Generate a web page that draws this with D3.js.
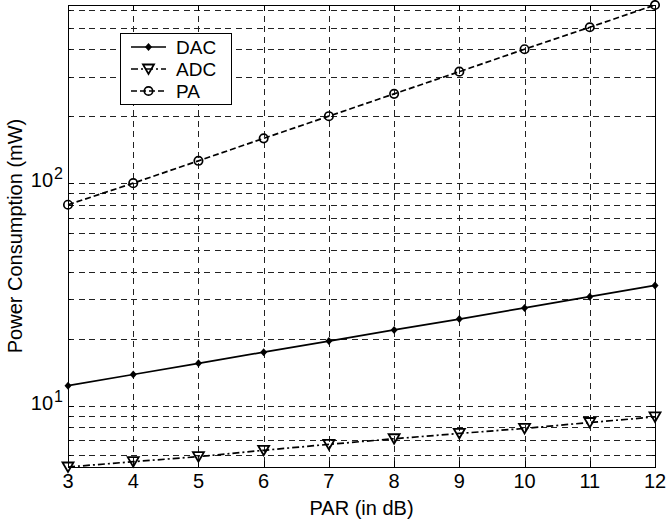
<!DOCTYPE html>
<html>
<head>
<meta charset="utf-8">
<script src="https://cdn.jsdelivr.net/npm/d3@7"></script>
<style>
  html, body { margin: 0; padding: 0; background: #fff; }
  svg { display: block; font-family: "Liberation Sans", Arial, Helvetica, sans-serif; }
</style>
</head>
<body>
<svg id="chart" width="666" height="525"></svg>
<script>
// PAR values (dB) on the x axis
const parDb = [3, 4, 5, 6, 7, 8, 9, 10, 11, 12];
// Power consumption of each block (mW)
const dacPower = [12.3, 13.8, 15.5, 17.4, 19.5, 21.9, 24.5, 27.5, 30.9, 34.7];
const adcPower = [5.3, 5.6, 5.9, 6.3, 6.7, 7.1, 7.5, 7.9, 8.4, 8.9];
const paPower = [80, 100, 126, 159, 200, 252, 317, 400, 502, 632];
// Axis ticks
const xTicks = [3, 4, 5, 6, 7, 8, 9, 10, 11, 12];
const yMajorTicks = [10, 100];
const yGridValues = [6, 7, 8, 9, 10, 20, 30, 40, 50, 60, 70, 80, 90, 100, 200, 300, 400, 500, 600];
const seriesNames = ["DAC", "ADC", "PA"];

const svg = d3.select("#chart");
const plotLeft = 68, plotRight = 655, plotTop = 5, plotBottom = 467;

const allValues = dacPower.concat(adcPower, paPower);
const x = d3.scaleLinear().domain([d3.min(parDb), d3.max(parDb)]).range([plotLeft, plotRight]);
const y = d3.scaleLog().domain([d3.min(allValues), d3.max(allValues)]).range([plotBottom, plotTop]);

const gridDash = "6,4.5";

// Grid lines
const grid = svg.append("g").attr("stroke", "#222").attr("stroke-width", 1)
  .attr("stroke-dasharray", gridDash).attr("shape-rendering", "crispEdges");
grid.selectAll("line.v").data(xTicks.slice(1, -1)).join("line")
  .attr("x1", d => Math.round(x(d)) + 0.5).attr("x2", d => Math.round(x(d)) + 0.5)
  .attr("y1", plotTop).attr("y2", plotBottom);
grid.selectAll("line.h").data(yGridValues).join("line")
  .attr("x1", plotLeft).attr("x2", plotRight)
  .attr("y1", d => Math.round(y(d)) + 0.5).attr("y2", d => Math.round(y(d)) + 0.5);

// Inward tick marks on all four sides
const ticks = svg.append("g").attr("stroke", "#000").attr("stroke-width", 1).attr("shape-rendering", "crispEdges");
xTicks.forEach(t => {
  const px = Math.round(x(t)) + 0.5;
  ticks.append("line").attr("x1", px).attr("x2", px).attr("y1", plotBottom).attr("y2", plotBottom - 6);
  ticks.append("line").attr("x1", px).attr("x2", px).attr("y1", plotTop).attr("y2", plotTop + 6);
});
yGridValues.forEach(t => {
  const py = Math.round(y(t)) + 0.5;
  const len = yMajorTicks.includes(t) ? 6 : 3;
  ticks.append("line").attr("x1", plotLeft).attr("x2", plotLeft + len).attr("y1", py).attr("y2", py);
  ticks.append("line").attr("x1", plotRight).attr("x2", plotRight - len).attr("y1", py).attr("y2", py);
});

// Axes box
svg.append("rect").attr("x", plotLeft + 0.5).attr("y", plotTop + 0.5)
  .attr("width", plotRight - plotLeft).attr("height", plotBottom - plotTop)
  .attr("fill", "none").attr("stroke", "#000").attr("stroke-width", 1);

// X tick labels
svg.append("g").selectAll("text").data(xTicks).join("text")
  .attr("x", d => x(d)).attr("y", 488).attr("text-anchor", "middle")
  .attr("font-size", 20).attr("fill", "#000").text(d => d);

// Y tick labels as powers of ten
yMajorTicks.forEach(t => {
  const exp = Math.round(Math.log10(t));
  const tx = svg.append("text").attr("x", 63).attr("y", y(t) + 4)
    .attr("text-anchor", "end").attr("font-size", 20).attr("fill", "#000");
  tx.append("tspan").text("10");
  tx.append("tspan").attr("dy", -8).attr("dx", 1).attr("font-size", 16).text(exp);
});

// Axis titles
svg.append("text").attr("x", (plotLeft + plotRight) / 2).attr("y", 515)
  .attr("text-anchor", "middle").attr("font-size", 20).text("PAR (in dB)");
svg.append("text").attr("transform", `translate(22, ${(plotTop + plotBottom) / 2}) rotate(-90)`)
  .attr("text-anchor", "middle").attr("font-size", 20).text("Power Consumption (mW)");

// Series
const series = [
  { name: seriesNames[0], values: dacPower, dash: null, marker: "diamond" },
  { name: seriesNames[1], values: adcPower, dash: "7,3,2,3", marker: "triangle" },
  { name: seriesNames[2], values: paPower, dash: "6,3", marker: "circle" }
];

const line = d3.line().x(d => x(d[0])).y(d => y(d[1]));

function drawMarker(g, kind, cx, cy) {
  if (kind === "diamond") {
    g.append("path").attr("d", `M${cx},${cy - 4}L${cx + 3.5},${cy}L${cx},${cy + 4}L${cx - 3.5},${cy}Z`)
      .attr("fill", "#000").attr("stroke", "none");
  } else if (kind === "triangle") {
    g.append("path").attr("d", `M${cx - 5.5},${cy - 4.5}L${cx + 5.5},${cy - 4.5}L${cx},${cy + 5}Z`)
      .attr("fill", "none").attr("stroke", "#000").attr("stroke-width", 1.8);
  } else {
    g.append("circle").attr("cx", cx).attr("cy", cy).attr("r", 4.2)
      .attr("fill", "none").attr("stroke", "#000").attr("stroke-width", 1.7);
  }
}

const plot = svg.append("g");
series.forEach(s => {
  const pts = parDb.map((p, i) => [p, s.values[i]]);
  plot.append("path").datum(pts).attr("d", line)
    .attr("fill", "none").attr("stroke", "#000").attr("stroke-width", 1.7)
    .attr("stroke-dasharray", s.dash);
  const mg = plot.append("g");
  pts.forEach(p => drawMarker(mg, s.marker, x(p[0]), y(p[1])));
});

// Legend
const legend = svg.append("g");
legend.append("rect").attr("x", 120.5).attr("y", 33.5).attr("width", 111).attr("height", 71)
  .attr("fill", "#fff").attr("stroke", "#000").attr("stroke-width", 1);
series.forEach((s, i) => {
  const ly = 47 + i * 22;
  legend.append("line").attr("x1", 131).attr("x2", 166).attr("y1", ly).attr("y2", ly)
    .attr("stroke", "#000").attr("stroke-width", 1.7).attr("stroke-dasharray", s.dash);
  drawMarker(legend, s.marker, 148.5, ly);
  legend.append("text").attr("x", 176).attr("y", ly + 7).attr("font-size", 19).text(s.name);
});
</script>
</body>
</html>
